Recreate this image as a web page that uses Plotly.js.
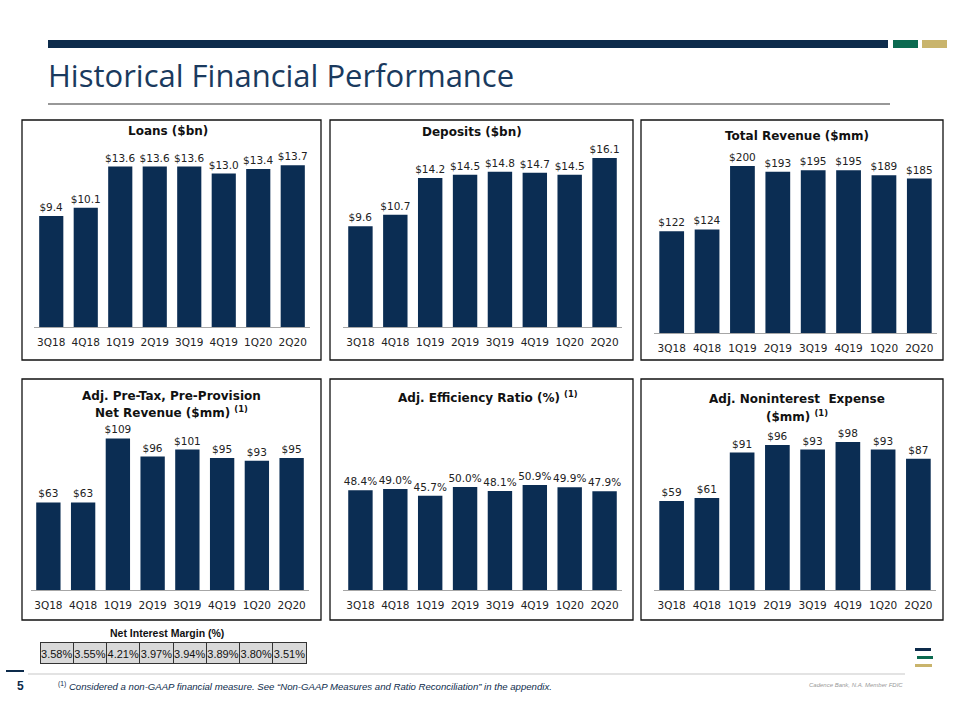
<!DOCTYPE html>
<html>
<head>
<meta charset="utf-8">
<script src="https://cdn.plot.ly/plotly-3.0.1.min.js"></script>
<style>
html,body{margin:0;padding:0;background:#fff;}
#chart{width:960px;height:720px;}
</style>
</head>
<body>
<div id="chart"></div>
<script>
// ---- data ----
const quarters = ['3Q18','4Q18','1Q19','2Q19','3Q19','4Q19','1Q20','2Q20'];
const loans = [9.4,10.1,13.6,13.6,13.6,13.0,13.4,13.7];
const deposits = [9.6,10.7,14.2,14.5,14.8,14.7,14.5,16.1];
const totalRevenue = [122,124,200,193,195,195,189,185];
const ptpp = [63,63,109,96,101,95,93,95];
const efficiency = [48.4,49.0,45.7,50.0,48.1,50.9,49.9,47.9];
const nonintExpense = [59,61,91,96,93,98,93,87];
const nim = [3.58,3.55,4.21,3.97,3.94,3.89,3.80,3.51];

// ---- styling / layout helpers ----
const W = 960, H = 720;
const NAVY = '#0b2d53', GREEN = '#0b6a50', GOLD = '#c9b46c';
const FONT = 'DejaVu Sans, Verdana, sans-serif';
const px = x => x / W;
const py = y => 1 - y / H;

const panels = [
  {vals: loans, tmpl: '$%{y:.1f}', x: [34,310], y: [150,327], r: 15.0},
  {vals: deposits, tmpl: '$%{y:.1f}', x: [343,622], y: [150,327], r: 16.86},
  {vals: totalRevenue, tmpl: '$%{y:.0f}', x: [654,937], y: [150,333], r: 219.2},
  {vals: ptpp, tmpl: '$%{y:.0f}', x: [31,309], y: [420,590], r: 122.3},
  {vals: efficiency, tmpl: '%{y:.1f}%', x: [343,622], y: [420,590], r: 82.5},
  {vals: nonintExpense, tmpl: '$%{y:.0f}', x: [654,936], y: [420,590], r: 112.6}
];

const data = [];
const layout = {
  width: W, height: H,
  margin: {l:0, r:0, t:0, b:0},
  paper_bgcolor: '#fff', plot_bgcolor: 'rgba(0,0,0,0)',
  showlegend: false,
  bargap: 0.3,
  font: {family: FONT, size: 10.5, color: '#222'},
  shapes: [], annotations: []
};

panels.forEach((p, i) => {
  const n = i + 1;
  const xa = n === 1 ? 'x' : 'x' + n;
  const ya = n === 1 ? 'y' : 'y' + n;
  data.push({
    type: 'bar', x: quarters, y: p.vals, xaxis: xa, yaxis: ya,
    marker: {color: NAVY},
    texttemplate: p.tmpl, textposition: 'outside', constraintext: 'none',
    cliponaxis: false,
    textfont: {family: FONT, size: 10.5, color: '#222'},
    hoverinfo: 'skip'
  });
  const xk = n === 1 ? 'xaxis' : 'xaxis' + n;
  const yk = n === 1 ? 'yaxis' : 'yaxis' + n;
  layout[xk] = {
    domain: [px(p.x[0]), px(p.x[1])], anchor: ya,
    showline: true, linecolor: '#a6a6a6', linewidth: 1,
    ticks: 'outside', ticklen: 5, tickcolor: 'rgba(0,0,0,0)',
    showgrid: false, zeroline: false, fixedrange: true,
    tickfont: {family: FONT, size: 10.5, color: '#222'}
  };
  layout[yk] = {
    domain: [py(p.y[1]), py(p.y[0])], anchor: xa,
    range: [0, p.r], visible: false, fixedrange: true
  };
});

// panel borders
const boxes = [
  [22,120,321,360],[330,120,633,360],[641,120,943,360],
  [22,379,321,620],[330,379,633,620],[641,379,943,620]
];
boxes.forEach(b => layout.shapes.push({
  type: 'rect', xref: 'paper', yref: 'paper',
  x0: px(b[0]), x1: px(b[2]), y0: py(b[3]), y1: py(b[1]),
  line: {color: '#111', width: 1.3}, fillcolor: 'rgba(0,0,0,0)'
}));

// header decorations
function rect(x0,y0,x1,y1,color){
  layout.shapes.push({type:'rect', xref:'paper', yref:'paper',
    x0:px(x0), x1:px(x1), y0:py(y1), y1:py(y0), line:{width:0}, fillcolor:color});
}
rect(48,40,888,48,'#0d2b4b');
rect(893,40,918,48,GREEN);
rect(922,40,947,48,GOLD);
rect(48,103.5,890,104.5,'#333');
// footer
rect(6,670,24,672,'#0d2b4b');
rect(28,673.5,905,674.5,'#c8c8c8');
rect(915,648,931,651,'#0d2b4b');
rect(917,656,933,659,GREEN);
rect(915,664,932,667,GOLD);

function ann(text, x, y, opts){
  layout.annotations.push(Object.assign({
    text: text, xref: 'paper', yref: 'paper', x: px(x), y: py(y),
    showarrow: false, xanchor: 'center', yanchor: 'middle',
    font: {family: FONT, size: 12, color: '#111', weight: 'bold'}
  }, opts || {}));
}

// page title
ann('Historical Financial Performance', 46, 75, {xanchor:'left',
  font:{family:'Open Sans, Noto Sans, sans-serif', size:31, color:'#1a3a5e'}});

// panel titles
const TF = {family: FONT, size: 12, color: '#111', weight: 'bold'};
ann('Loans ($bn)', 168, 131, {font: TF});
ann('Deposits ($bn)', 472, 132, {font: TF});
ann('Total Revenue ($mm)', 797, 136, {font: TF});
ann('Adj. Pre-Tax, Pre-Provision', 171, 396, {font: TF});
ann('Net Revenue ($mm) <sup>(1)</sup>', 171, 412, {font: TF});
ann('Adj. Efficiency Ratio (%) <sup>(1)</sup>', 488, 397, {font: TF});
ann('Adj. Noninterest  Expense', 797, 399, {font: TF});
ann('($mm) <sup>(1)</sup>', 797, 416, {font: TF});

// NIM table (single row drawn as the table header)
const NARROW = 'Liberation Sans Narrow, Arial Narrow, Liberation Sans, sans-serif';
ann('Net Interest Margin (%)', 167, 633, {font:{family:NARROW, size:10.5, color:'#111', weight:'bold'}});
data.push({
  type: 'table',
  domain: {x: [px(40), px(307)], y: [py(664), py(642)]},
  columnwidth: nim.map(() => 1),
  header: {
    values: nim.map(v => v.toFixed(2) + '%'),
    height: 21, align: 'center',
    fill: {color: '#d9d9d9'},
    line: {color: '#333', width: 1},
    font: {family: NARROW, size: 11, color: '#111'}
  },
  cells: {values: []}
});

// footer text
ann('5', 20, 686, {font:{family:'Liberation Sans, sans-serif', size:12, color:'#0d2b4b', weight:'bold'}});
ann('<sup>(1)</sup> <i>Considered a non-GAAP financial measure. See “Non-GAAP Measures and Ratio Reconciliation” in the appendix.</i>',
  56, 686, {xanchor:'left', font:{family:NARROW, size:9.6, color:'#0d2b4b'}});
ann('<i>Cadence Bank, N.A. Member FDIC</i>', 905, 685, {xanchor:'right',
  font:{family:'Liberation Sans, sans-serif', size:6, color:'#999'}});

Plotly.newPlot('chart', data, layout, {displayModeBar: false, staticPlot: true});
</script>
</body>
</html>
